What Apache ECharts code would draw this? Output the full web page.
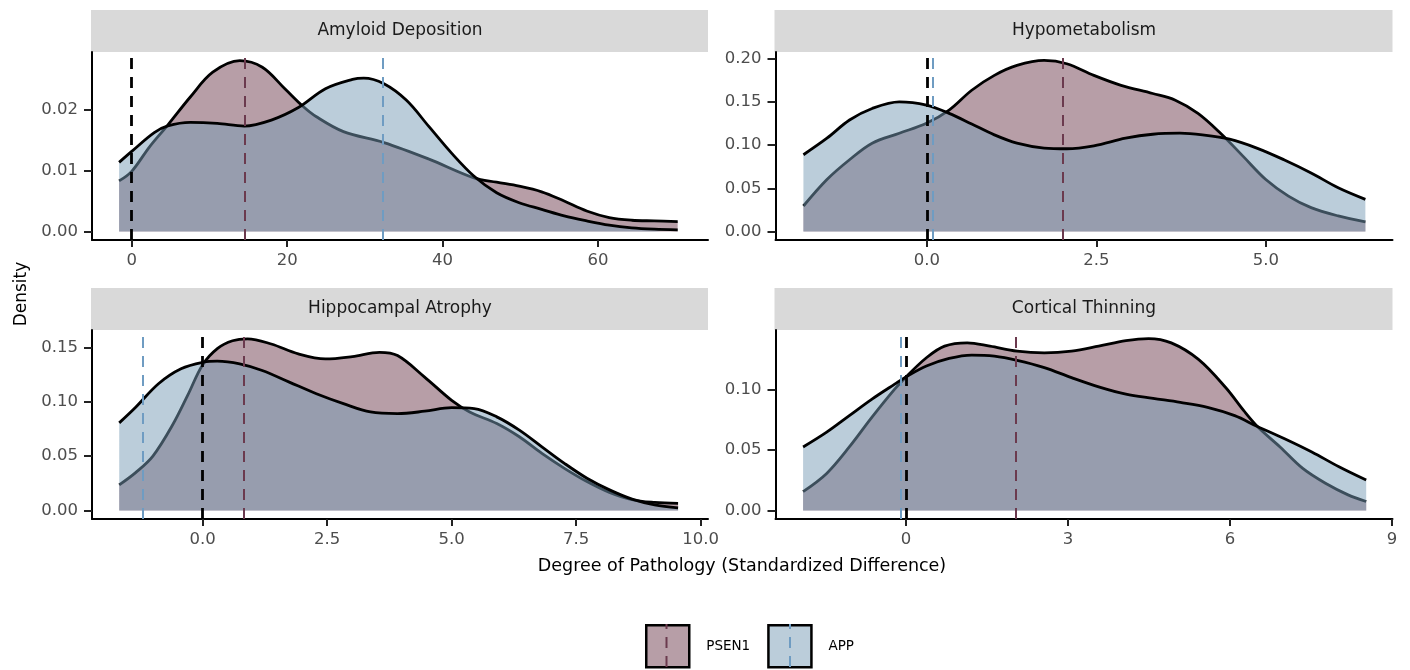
<!DOCTYPE html>
<html><head><meta charset="utf-8">
<script src="https://cdn.jsdelivr.net/npm/echarts@6/dist/echarts.min.js"></script>
<style>html,body{margin:0;padding:0;background:#fff}#c{width:1410px;height:670px}</style>
</head><body><div id="c"></div>
<script>
// ---- data ----
const panelTitles = ['Amyloid Deposition', 'Hypometabolism', 'Hippocampal Atrophy', 'Cortical Thinning'];
const groupNames = ['PSEN1', 'APP'];

const amyloidPSEN1 = [[-1.62,0.00834],[0,0.00992],[2.32,0.01401],[4.64,0.01755],[7.54,0.02218],[10.43,0.02627],[13.91,0.02817],[16.81,0.02708],[19.71,0.02354],[22.03,0.02065],[23.77,0.01891],[27.25,0.01646],[32.46,0.01466],[38.26,0.01193],[44.06,0.00883],[46.96,0.00812],[49.86,0.00747],[52.75,0.00654],[55.65,0.00501],[58.55,0.00338],[61.45,0.00229],[64.35,0.00185],[67.25,0.00174],[70.26,0.00163]];
const amyloidAPP = [[-1.62,0.01139],[0,0.01320],[2.90,0.01630],[4.64,0.01740],[7.54,0.01798],[11.01,0.01782],[14.49,0.01738],[17.97,0.01837],[21.45,0.02044],[24.93,0.02354],[28.41,0.02507],[29.86,0.02529],[32.46,0.02436],[35.36,0.02163],[38.26,0.01728],[41.16,0.01292],[44.06,0.00910],[46.96,0.00638],[49.86,0.00474],[52.75,0.00365],[55.65,0.00256],[58.55,0.00174],[61.45,0.00104],[64.35,0.00060],[67.25,0.00038],[70.26,0.00027]];

const hypoPSEN1 = [[-1.822,0.0295],[-1.475,0.0602],[-1.142,0.0831],[-0.808,0.1023],[-0.407,0.1138],[-0.007,0.1253],[0.327,0.1406],[0.661,0.1636],[0.995,0.1808],[1.328,0.1923],[1.729,0.1981],[2.063,0.1943],[2.463,0.1808],[2.864,0.1693],[3.331,0.1598],[3.665,0.1521],[3.999,0.1368],[4.332,0.1138],[4.666,0.0870],[5.000,0.0602],[5.334,0.0410],[5.668,0.0276],[6.068,0.0180],[6.469,0.0111]];
const hypoAPP = [[-1.822,0.0889],[-1.475,0.1080],[-1.142,0.1291],[-0.808,0.1425],[-0.407,0.1502],[-0.007,0.1464],[0.327,0.1368],[0.661,0.1245],[0.995,0.1119],[1.328,0.1023],[1.729,0.0966],[2.063,0.0958],[2.463,0.0992],[2.931,0.1080],[3.331,0.1126],[3.732,0.1138],[4.065,0.1119],[4.466,0.1069],[4.867,0.0966],[5.267,0.0831],[5.668,0.0678],[6.068,0.0506],[6.469,0.0372]];

const hippoPSEN1 = [[-1.676,0.0235],[-1.341,0.0350],[-1.0,0.0500],[-0.6,0.0790],[-0.3,0.1060],[0,0.1340],[0.3,0.1490],[0.6,0.1560],[0.9,0.1578],[1.377,0.1530],[1.920,0.1439],[2.464,0.1393],[3.007,0.1415],[3.551,0.1454],[3.913,0.1424],[4.457,0.1226],[5.000,0.1012],[5.362,0.0905],[5.906,0.0799],[6.359,0.0677],[6.812,0.0524],[7.264,0.0387],[7.717,0.0265],[8.170,0.0165],[8.623,0.0098],[9.076,0.0073],[9.547,0.0064]];
const hippoAPP = [[-1.676,0.0805],[-1.341,0.0951],[-0.888,0.1165],[-0.435,0.1302],[0.018,0.1363],[0.290,0.1372],[0.743,0.1348],[1.196,0.1287],[1.739,0.1180],[2.283,0.1073],[2.826,0.0982],[3.370,0.0905],[3.913,0.0890],[4.457,0.0912],[5.000,0.0945],[5.453,0.0936],[5.906,0.0860],[6.359,0.0738],[6.812,0.0585],[7.264,0.0433],[7.717,0.0296],[8.170,0.0189],[8.623,0.0104],[9.076,0.0052],[9.547,0.0024]];

const corticalPSEN1 = [[-1.906,0.0156],[-1.469,0.0307],[-1.050,0.0526],[-0.630,0.0773],[-0.210,0.1005],[0,0.1107],[0.378,0.1266],[0.714,0.1362],[1.134,0.1389],[1.553,0.1362],[2.057,0.1321],[2.561,0.1307],[3.065,0.1321],[3.568,0.1362],[4.072,0.1408],[4.492,0.1425],[4.912,0.1389],[5.416,0.1252],[5.919,0.1019],[6.255,0.0827],[6.507,0.0696],[6.927,0.0526],[7.347,0.0348],[7.767,0.0225],[8.186,0.0129],[8.522,0.0074]];
const corticalAPP = [[-1.906,0.0526],[-1.469,0.0649],[-1.050,0.0786],[-0.630,0.0923],[-0.210,0.1047],[0,0.1107],[0.378,0.1197],[0.798,0.1260],[1.217,0.1288],[1.637,0.1279],[2.057,0.1244],[2.561,0.1184],[3.065,0.1101],[3.568,0.1025],[4.072,0.0964],[4.576,0.0929],[5.080,0.0896],[5.584,0.0855],[6.087,0.0786],[6.507,0.0696],[7.011,0.0595],[7.515,0.0485],[8.018,0.0362],[8.522,0.0252]];

const meanPSEN1 = [14.6, 2.01, 0.835, 2.03];
const meanAPP = [32.3, 0.08, -1.21, -0.10];
const referenceLine = 0;

const xTickValues = [[0,20,40,60],[0,2.5,5],[0,2.5,5,7.5,10],[0,3,6,9]];
const xTickLabels = [['0','20','40','60'],['0.0','2.5','5.0'],['0.0','2.5','5.0','7.5','10.0'],['0','3','6','9']];
const yTickValues = [[0,0.01,0.02],[0,0.05,0.1,0.15,0.2],[0,0.05,0.1,0.15],[0,0.05,0.1]];
const yTickLabels = [['0.00','0.01','0.02'],['0.00','0.05','0.10','0.15','0.20'],['0.00','0.05','0.10','0.15'],['0.00','0.05','0.10']];
const xLimits = [[-5.11,74.16],[-2.234,6.869],[-2.223,10.148],[-2.417,9.009]];
const yLimits = [[-0.00141,0.0296],[-0.0099,0.2079],[-0.0079,0.1659],[-0.0071,0.1496]];

const seriesPSEN1 = [amyloidPSEN1, hypoPSEN1, hippoPSEN1, corticalPSEN1];
const seriesAPP = [amyloidAPP, hypoAPP, hippoAPP, corticalAPP];

// ---- styling / layout ----
const FONT = '"DejaVu Sans", "Liberation Sans", sans-serif';
const colPSEN1 = 'rgba(111,61,79,0.5)';
const colAPP = 'rgba(119,155,181,0.5)';
const lineColPSEN1 = '#6B3A4E';
const lineColAPP = '#6F9CC2';
const gridBoxes = [
  {left: 92, top: 52, width: 616, height: 188},
  {left: 775.5, top: 52, width: 617, height: 188},
  {left: 92, top: 330, width: 616, height: 189},
  {left: 775.5, top: 330, width: 617, height: 189}
];
const stripH = 42;

function labelFor(values, labels) {
  return function (v) {
    for (let k = 0; k < values.length; k++) {
      if (Math.abs(values[k] - v) < 1e-9) return labels[k];
    }
    return '';
  };
}

const grid = [], xAxis = [], yAxis = [], series = [], graphic = [];
for (let i = 0; i < 4; i++) {
  const g = gridBoxes[i];
  grid.push(Object.assign({containLabel: false}, g));
  xAxis.push({
    type: 'value', gridIndex: i, min: xLimits[i][0], max: xLimits[i][1],
    axisLine: {show: true, onZero: false, lineStyle: {color: '#000', width: 2}},
    axisTick: {show: true, length: 7, lineStyle: {color: '#222', width: 2}, customValues: xTickValues[i]},
    axisLabel: {show: true, customValues: xTickValues[i], formatter: labelFor(xTickValues[i], xTickLabels[i]),
      color: '#4D4D4D', fontSize: 16.5, fontFamily: FONT, margin: 12},
    splitLine: {show: false}
  });
  yAxis.push({
    type: 'value', gridIndex: i, min: yLimits[i][0], max: yLimits[i][1],
    axisLine: {show: true, onZero: false, lineStyle: {color: '#000', width: 2}},
    axisTick: {show: true, length: 8, lineStyle: {color: '#222', width: 2}, customValues: yTickValues[i]},
    axisLabel: {show: true, customValues: yTickValues[i], formatter: labelFor(yTickValues[i], yTickLabels[i]),
      color: '#4D4D4D', fontSize: 16.5, fontFamily: FONT, margin: 14},
    splitLine: {show: false}
  });
  series.push({
    type: 'line', name: groupNames[0], xAxisIndex: i, yAxisIndex: i, z: 2,
    data: seriesPSEN1[i], smooth: 0.35, showSymbol: false, symbol: 'none',
    lineStyle: {color: '#000', width: 2.8}, itemStyle: {color: colPSEN1},
    areaStyle: {color: colPSEN1, opacity: 1}, silent: true
  });
  series.push({
    type: 'line', name: groupNames[1], xAxisIndex: i, yAxisIndex: i, z: 3,
    data: seriesAPP[i], smooth: 0.35, showSymbol: false, symbol: 'none',
    lineStyle: {color: '#000', width: 2.8}, itemStyle: {color: colAPP},
    areaStyle: {color: colAPP, opacity: 1}, silent: true,
    markLine: {
      silent: true, symbol: ['none', 'none'], label: {show: false}, animation: false,
      data: [
        {xAxis: meanPSEN1[i], lineStyle: {color: lineColPSEN1, type: [11, 8], width: 2}},
        {xAxis: meanAPP[i], lineStyle: {color: lineColAPP, type: [11, 8], width: 2}},
        {xAxis: referenceLine, lineStyle: {color: '#000', type: [11, 8], width: 2.8}}
      ]
    }
  });
  // strip
  graphic.push({type: 'rect', silent: true, shape: {x: g.left - 1, y: g.top - stripH, width: g.width + 1, height: stripH},
    style: {fill: '#D9D9D9'}});
  graphic.push({type: 'text', silent: true, x: g.left + g.width / 2, y: g.top - stripH / 2,
    style: {text: panelTitles[i], fill: '#1A1A1A', font: '17px ' + FONT, align: 'center', verticalAlign: 'middle',
      textAlign: 'center', textVerticalAlign: 'middle'}});
}

graphic.push({type: 'text', silent: true, x: 22, y: 294, rotation: Math.PI / 2,
  style: {text: 'Density', fill: '#000', font: '17px ' + FONT, align: 'center', verticalAlign: 'middle',
    textAlign: 'center', textVerticalAlign: 'middle'}});
graphic.push({type: 'text', silent: true, x: 742, y: 566,
  style: {text: 'Degree of Pathology (Standardized Difference)', fill: '#000', font: '17.5px ' + FONT,
    align: 'center', verticalAlign: 'middle', textAlign: 'center', textVerticalAlign: 'middle'}});
// dashed marks inside legend keys
graphic.push({type: 'line', silent: true, z: 100, shape: {x1: 666.5, y1: 624, x2: 666.5, y2: 667},
  style: {stroke: lineColPSEN1, lineWidth: 2, lineDash: [11, 8], lineDashOffset: 6}});
graphic.push({type: 'line', silent: true, z: 100, shape: {x1: 790, y1: 624, x2: 790, y2: 667},
  style: {stroke: lineColAPP, lineWidth: 2, lineDash: [11, 8], lineDashOffset: 6}});

const option = {
  backgroundColor: '#fff',
  animation: false,
  grid, xAxis, yAxis, series, graphic,
  legend: {
    left: 645, top: 624, padding: 0, orient: 'horizontal', icon: 'rect',
    itemWidth: 43, itemHeight: 42, itemGap: 17, selectedMode: false,
    textStyle: {fontFamily: FONT, fontSize: 13.5, color: '#000', padding: [0, 0, 0, 12]},
    data: [
      {name: 'PSEN1', icon: 'rect', itemStyle: {color: colPSEN1, borderColor: '#000', borderWidth: 2.5}},
      {name: 'APP', icon: 'rect', itemStyle: {color: colAPP, borderColor: '#000', borderWidth: 2.5}}
    ]
  }
};
const chart = echarts.init(document.getElementById('c'), null, {renderer: 'canvas'});
chart.setOption(option);
</script>
</body></html>
